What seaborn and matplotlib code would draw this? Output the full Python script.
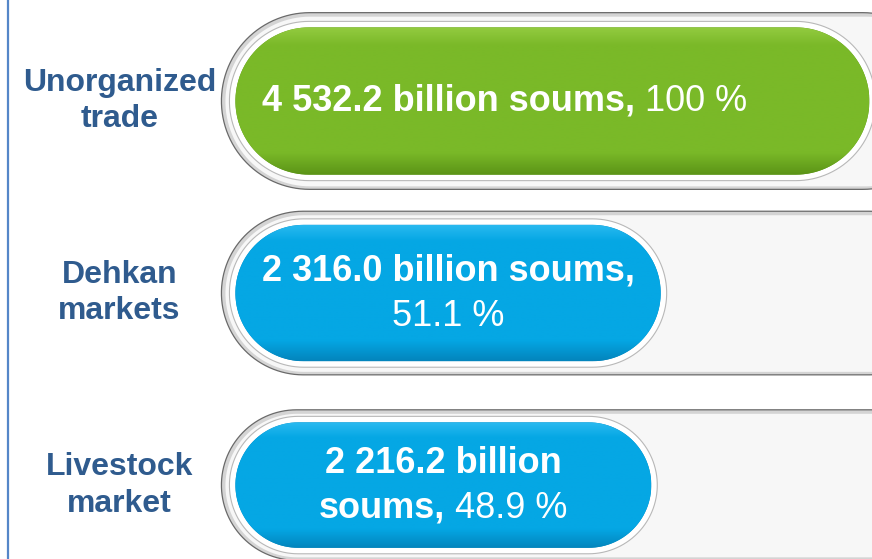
import numpy as np
import matplotlib
matplotlib.use('Agg')
import matplotlib.pyplot as plt
import matplotlib.transforms as mtransforms
from matplotlib.patches import Polygon
from matplotlib.colors import LinearSegmentedColormap
import seaborn as sns

# data
categories = ['Unorganized\ntrade', 'Dehkan\nmarkets', 'Livestock\nmarket']
values = [4532.2, 2316.0, 2216.2]          # billion soums
shares = [100, 51.1, 48.9]                 # %
bar_colors = ['#7ab928', '#05a7e4', '#05a7e4']
light_colors = ['#93cb40', '#2abaf0', '#2abaf0']
shade_colors = ['#5b9417', '#0385bd', '#0385bd']

sns.set_theme(style='white')
plt.rcParams['font.family'] = ['Liberation Sans', 'DejaVu Sans']

fig = plt.figure(figsize=(8.72, 5.59), dpi=100)
ax = fig.add_axes([0, 0, 1, 1])
sns.barplot(x=values, y=categories, hue=categories, palette=bar_colors,
            orient='h', width=0.71, legend=False, ax=ax)

XLIM = (-4700, 4560)
YLIM = (2.385, -0.526)
ax.set_xlim(*XLIM)
ax.set_ylim(*YLIM)
ax.axis('off')

xpp = (XLIM[1] - XLIM[0]) / 872      # data units per pixel
ypp = abs(YLIM[0] - YLIM[1]) / 559
asp = ypp / xpp


def pill(x0, x1, yc, h, z, **kw):
    ry = h / 2
    rx = ry / asp
    t = np.linspace(-np.pi / 2, np.pi / 2, 60)
    right = np.c_[x1 - rx + rx * np.cos(t), yc + ry * np.sin(t)]
    left = np.c_[x0 + rx - rx * np.cos(t), yc - ry * np.sin(t)]
    p = Polygon(np.vstack([right, left]), closed=True, zorder=z, **kw)
    ax.add_patch(p)
    return p


# take the seaborn bars and redraw them as pills
bars = sorted((p.get_y() + p.get_height() / 2, p.get_width(), p.get_height())
              for p in ax.patches)
for p in list(ax.patches):
    p.remove()

LEFT_PAD = 2200
height_scale = [1.08, 1.0, 0.92]
grad = np.linspace(0, 1, 200).reshape(-1, 1)

for i, (yc, w, h) in enumerate(bars):
    h = h * height_scale[i]
    x0 = -LEFT_PAD
    th = h * 1.2
    # background track
    pill(x0 - 14 * xpp, 5400, yc, th, 1, facecolor='#d4d4d4',
         edgecolor='#6a6a6a', lw=0.9)
    pill(x0 - 10 * xpp, 5400, yc + 0.5 * ypp, th - 7 * ypp, 2,
         facecolor='#f7f7f7', edgecolor='none')
    # white rim round the bar
    pill(x0 - 6 * xpp, w + 6 * xpp, yc, h + 12 * ypp, 3, facecolor='white',
         edgecolor='#b8b8b8', lw=0.8)
    # bar with a soft vertical gradient
    clip = pill(x0, w, yc, h, 4, facecolor=shade_colors[i], edgecolor='none')
    cmap = LinearSegmentedColormap.from_list(
        f'bar{i}', [(0, light_colors[i]), (0.12, bar_colors[i]),
                    (0.85, bar_colors[i]), (1, shade_colors[i])])
    im = ax.imshow(grad, extent=(x0, w, yc - h / 2, yc + h / 2),
                   origin='lower', aspect='auto', cmap=cmap, zorder=5,
                   interpolation='bilinear')
    im.set_clip_path(clip)

ax.set_xlim(*XLIM)
ax.set_ylim(*YLIM)

# category labels
lab_tr = mtransforms.blended_transform_factory(ax.transAxes, ax.transData)
for (yc, w, h), lab in zip(bars, categories):
    ax.text(0.137, yc, lab, transform=lab_tr, ha='center', va='center',
            fontsize=23, fontweight='bold', color='#2f5b8e', linespacing=1.3)

# left rule
ax.plot([0.0095, 0.0095], [0, 1], transform=ax.transAxes, color='#5586c8',
        lw=1.6, clip_on=False)

# value labels
BAR_FS = 26
renderer = fig.canvas.get_renderer()
gap = 0.278 * BAR_FS * 100 / 72


def mixed(x, y, parts, ha='center', dy=0):
    texts, widths = [], []
    for s, wt in parts:
        t = ax.text(x, y, s, fontsize=BAR_FS, fontweight=wt, color='white',
                    ha='left', va='center', zorder=10)
        texts.append(t)
        widths.append(t.get_window_extent(renderer).width)
    total = sum(widths) + gap * (len(parts) - 1)
    start = -total / 2 if ha == 'center' else 0
    for t, wd in zip(texts, widths):
        t.set_transform(mtransforms.offset_copy(ax.transData, fig=fig, x=start,
                                                y=dy, units='dots'))
        start += wd + gap


amount = [f"{v:,.1f}".replace(',', ' ') for v in values]
pct = [f"{s:g} %" for s in shares]

# row 1: one line, left aligned
yc, w, h = bars[0]
mixed(-LEFT_PAD + 27 * xpp, yc, [(amount[0] + ' billion soums,', 'bold'),
                                  (pct[0], 'normal')], ha='left')
# row 2: two lines
yc, w, h = bars[1]
xc = (-LEFT_PAD + w) / 2
mixed(xc, yc, [(amount[1] + ' billion soums,', 'bold')], dy=22)
mixed(xc, yc, [(pct[1], 'normal')], dy=-23)
# row 3: two lines
yc, w, h = bars[2]
xc = (-LEFT_PAD + w) / 2
mixed(xc, yc, [(amount[2] + ' billion', 'bold')], dy=22)
mixed(xc, yc, [('soums,', 'bold'), (pct[2], 'normal')], dy=-23)

fig.savefig('out.png', dpi=100)
